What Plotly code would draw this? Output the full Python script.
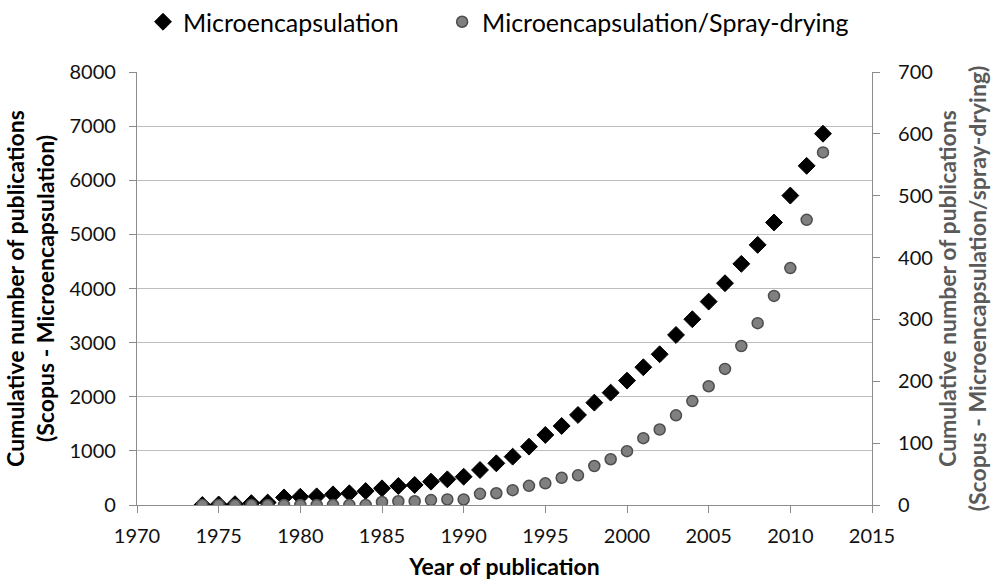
import plotly.graph_objects as go

years = list(range(1974, 2013))
micro = [0, 10, 15, 35, 45, 140, 153, 160, 197, 216, 258, 308, 351, 370, 431, 474, 523,
         647, 770, 893, 1078, 1294, 1460, 1664, 1891, 2076, 2298, 2545, 2785, 3142, 3432,
         3758, 4098, 4455, 4806, 5220, 5717, 6266, 6860]
spray = [0, 0, 0, 0, 0, 0, 0, 0, 0, 0, 0, 5, 6, 6, 8, 9, 9,
         18, 19, 24, 31, 35, 44, 48, 63, 74, 87, 108, 122, 145, 168,
         192, 220, 257, 294, 338, 383, 461, 570]

x_ticks = [1970, 1975, 1980, 1985, 1990, 1995, 2000, 2005, 2010, 2015]
y_ticks = [0, 1000, 2000, 3000, 4000, 5000, 6000, 7000, 8000]
y2_ticks = [0, 100, 200, 300, 400, 500, 600, 700]

FONT = "Lato"
NBSP = "\u00a0"
fig = go.Figure()
fig.add_trace(go.Scatter(
    x=years, y=micro, mode="markers", name="Microencapsulation" + NBSP * 6,
    marker=dict(symbol="diamond", size=13, color="black", line=dict(color="black", width=1)),
    yaxis="y"))
fig.add_trace(go.Scatter(
    x=years, y=spray, mode="markers", name="Microencapsulation/Spray-drying",
    marker=dict(symbol="circle", size=11, color="#808080", line=dict(color="#4d4d4d", width=1.5)),
    yaxis="y2"))

axis_common = dict(showline=True, linecolor="#8c8c8c", linewidth=1.2,
                   ticks="outside", ticklen=7, tickcolor="#8c8c8c", automargin=False,
                   tickfont=dict(family=FONT, size=20, color="#111111"), zeroline=False)

fig.update_layout(
    width=993, height=580,
    margin=dict(l=137, r=121, t=72, b=75),
    paper_bgcolor="white", plot_bgcolor="white",
    font=dict(family=FONT, color="black"),
    xaxis=dict(range=[1970, 2015], tickvals=x_ticks, showgrid=False, ticklabelstandoff=6,
               title=dict(text="<b>Year of publication</b>", font=dict(family=FONT, size=23), standoff=15),
               **axis_common),
    yaxis=dict(range=[0, 8000], tickvals=y_ticks, showgrid=True, gridcolor="#bdbdbd", gridwidth=1.2,
               ticklabelstandoff=9,
               title=dict(text="<b>Cumulative number of publications<br>(Scopus - Microencapsulation)</b>",
                          font=dict(family=FONT, size=23), standoff=8),
               **axis_common),
    yaxis2=dict(range=[0, 700], tickvals=y2_ticks, overlaying="y", side="right", showgrid=False,
                ticklabelstandoff=14,
                title=dict(text="<b>Cumulative number of publications<br>(Scopus - Microencapsulation/spray-drying)</b>",
                           font=dict(family=FONT, size=23, color="#5a5a5a"), standoff=4),
                **axis_common),
    legend=dict(orientation="h", xref="container", yref="container",
                x=143 / 993, xanchor="left", y=1 - 22 / 580, yanchor="middle",
                font=dict(family=FONT, size=25, color="black"), bgcolor="rgba(0,0,0,0)"),
    showlegend=True,
)

fig.write_html("out.html", config={"displayModeBar": False},
               post_script="document.body.style.margin='0';document.body.style.padding='0';")
